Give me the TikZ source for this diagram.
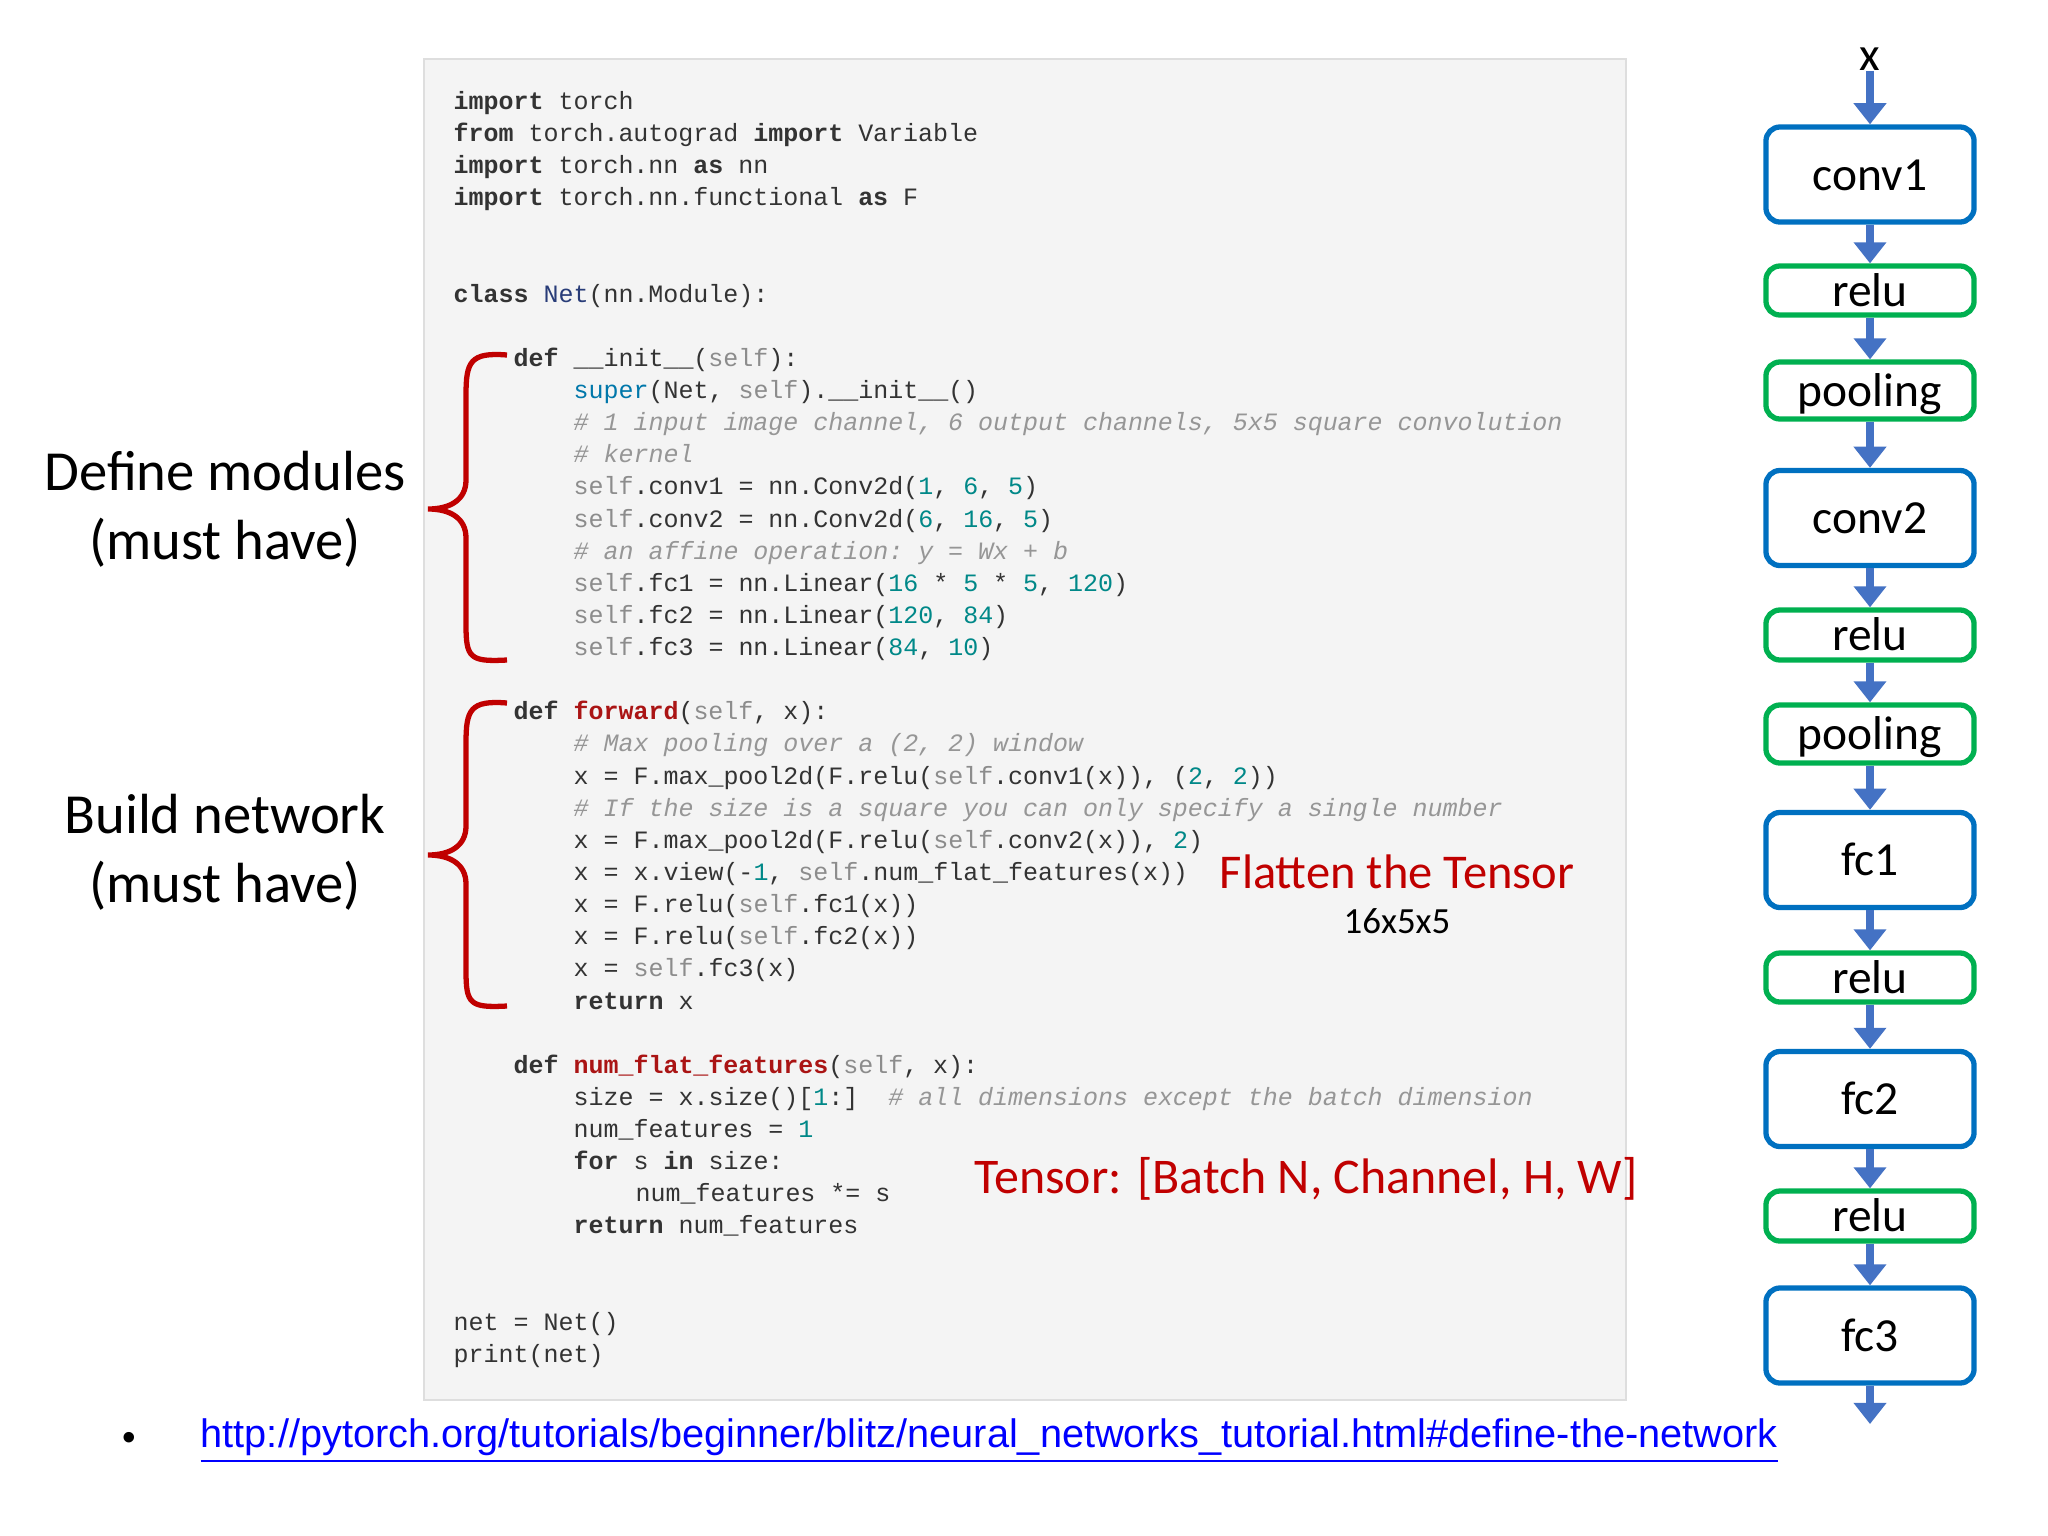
\documentclass[tikz,border=0pt]{standalone}
\usepackage{fontspec}
\usepackage{xcolor}
\usetikzlibrary{arrows.meta}
\setmonofont{Liberation Mono}
\newfontfamily\calib{Carlito}
\newfontfamily\arialf{Liberation Sans}
\definecolor{codebg}{RGB}{244,244,244}
\definecolor{codeln}{RGB}{222,222,222}
\definecolor{codetx}{RGB}{51,51,51}
\definecolor{cmtgray}{RGB}{150,150,150}
\definecolor{slfgray}{RGB}{140,140,140}
\definecolor{numteal}{RGB}{0,136,136}
\definecolor{supblue}{RGB}{0,119,170}
\definecolor{netblue}{RGB}{40,60,120}
\definecolor{fnred}{RGB}{170,20,20}
\definecolor{slred}{RGB}{192,0,0}
\definecolor{boxblue}{RGB}{0,112,192}
\definecolor{boxgreen}{RGB}{0,176,80}
\definecolor{arrblue}{RGB}{68,114,196}
\newcommand{\kwd}[1]{\textbf{#1}}
\newcommand{\num}[1]{\textcolor{numteal}{#1}}
\newcommand{\cmt}[1]{\textcolor{cmtgray}{\itshape #1}}
\newcommand{\slf}[1]{\textcolor{slfgray}{#1}}
\newcommand{\fnm}[1]{\textcolor{fnred}{\textbf{#1}}}

\begin{document}
\begin{tikzpicture}
      [ x=0.01cm, y=-0.01cm
      , code/.style={anchor=west, inner sep=0pt, text height=5pt, text depth=1.5pt,
          font=\ttfamily\fontsize{7.1}{8}\selectfont, text=codetx}
      , label/.style={font=\calib\fontsize{16.1}{19.5}\selectfont, align=center}
      , note/.style={font=\calib\fontsize{14.2}{16}\selectfont, text=slred}
      , brace/.style={slred, line width=1.5pt}
      , layer/.style={draw, line width=1.5pt, rounded corners=4pt, minimum width=2.08cm,
          inner sep=0pt, text height=9pt, text depth=0pt, font=\calib\fontsize{13.5}{16}\selectfont}
      , conv/.style={layer, boxblue, text=black, minimum height=0.95cm}
      , act/.style={layer, boxgreen, text=black}
      , flow/.style={arrblue, line width=2.2pt, -{Triangle[width=9pt,length=6pt]}}
      ]
    \useasboundingbox (0,0) rectangle (2048,1536);
    \fill[codebg, draw=codeln] (424,59) rectangle (1626,1400);

    % code lines
    \node[code] (l0) at (453,103.2) {\kwd{import} torch};
    \node[code] (l1) at (453,135.3) {\kwd{from} torch.autograd \kwd{import} Variable};
    \node[code] (l2) at (453,167.5) {\kwd{import} torch.nn \kwd{as} nn};
    \node[code] (l3) at (453,199.6) {\kwd{import} torch.nn.functional \kwd{as} F};
    \node[code] (l6) at (453,296.0) {\kwd{class} \textcolor{netblue}{Net}(nn.Module):};
    \node[code] (l8) at (513,360.2) {\kwd{def} \_\_init\_\_(\slf{self}):};
    \node[code] (l9) at (573,392.4) {\textcolor{supblue}{super}(Net, \slf{self}).\_\_init\_\_()};
    \node[code] (l10) at (573,424.5) {\cmt{\# 1 input image channel, 6 output channels, 5x5 square convolution}};
    \node[code] (l11) at (573,456.6) {\cmt{\# kernel}};
    \node[code] (l12) at (573,488.8) {\slf{self}.conv1 = nn.Conv2d(\num{1}, \num{6}, \num{5})};
    \node[code] (l13) at (573,520.9) {\slf{self}.conv2 = nn.Conv2d(\num{6}, \num{16}, \num{5})};
    \node[code] (l14) at (573,553.0) {\cmt{\# an affine operation: y = Wx + b}};
    \node[code] (l15) at (573,585.2) {\slf{self}.fc1 = nn.Linear(\num{16} * \num{5} * \num{5}, \num{120})};
    \node[code] (l16) at (573,617.3) {\slf{self}.fc2 = nn.Linear(\num{120}, \num{84})};
    \node[code] (l17) at (573,649.4) {\slf{self}.fc3 = nn.Linear(\num{84}, \num{10})};
    \node[code] (l19) at (513,713.7) {\kwd{def} \fnm{forward}(\slf{self}, x):};
    \node[code] (l20) at (573,745.8) {\cmt{\# Max pooling over a (2, 2) window}};
    \node[code] (l21) at (573,778.0) {x = F.max\_pool2d(F.relu(\slf{self}.conv1(x)), (\num{2}, \num{2}))};
    \node[code] (l22) at (573,810.1) {\cmt{\# If the size is a square you can only specify a single number}};
    \node[code] (l23) at (573,842.2) {x = F.max\_pool2d(F.relu(\slf{self}.conv2(x)), \num{2})};
    \node[code] (l24) at (573,874.4) {x = x.view(-\num{1}, \slf{self}.num\_flat\_features(x))};
    \node[code] (l25) at (573,906.5) {x = F.relu(\slf{self}.fc1(x))};
    \node[code] (l26) at (573,938.6) {x = F.relu(\slf{self}.fc2(x))};
    \node[code] (l27) at (573,970.8) {x = \slf{self}.fc3(x)};
    \node[code] (l28) at (573,1002.9) {\kwd{return} x};
    \node[code] (l30) at (513,1067.2) {\kwd{def} \fnm{num\_flat\_features}(\slf{self}, x):};
    \node[code] (l31) at (573,1099.3) {size = x.size()[\num{1}:]~~\cmt{\# all dimensions except the batch dimension}};
    \node[code] (l32) at (573,1131.4) {num\_features = \num{1}};
    \node[code] (l33) at (573,1163.6) {\kwd{for} s \kwd{in} size:};
    \node[code] (l34) at (635,1195.7) {num\_features *= s};
    \node[code] (l35) at (573,1227.8) {\kwd{return} num\_features};
    \node[code] (l38) at (453,1324.2) {net = Net()};
    \node[code] (l39) at (453,1356.3) {print(net)};

    % braces and labels
    \draw[brace] (507,355) .. controls (470,352) and (466,362) .. (466,395)
      -- (466,480) .. controls (466,500) and (450,509) .. (428,509)
      .. controls (450,509) and (466,518) .. (466,538)
      -- (466,625) .. controls (466,658) and (470,662) .. (507,660);
    \draw[brace] (507,703) .. controls (470,700) and (466,710) .. (466,743)
      -- (466,826) .. controls (466,846) and (450,855) .. (428,855)
      .. controls (450,855) and (466,864) .. (466,884)
      -- (466,971) .. controls (466,1004) and (470,1008) .. (507,1006);
    \node[label] (DM) at (225,509) {Define modules\\(must have)};
    \node[label] (BN) at (225,852) {Build network\\(must have)};

    \node[note, font=\calib\fontsize{13.8}{16}\selectfont] (FT) at (1397,872) {Flatten the Tensor};
    \node[font=\calib\fontsize{10.5}{12}\selectfont] (SZ) at (1397,921) {16x5x5};
    \node[note] (TS) at (1306,1179) {Tensor: [Batch N, Channel, H, W]};

    \node[font=\arialf\fontsize{11}{12}\selectfont] (B) at (129,1441) {\textbullet};
    \node[anchor=west, inner sep=0pt, font=\arialf\fontsize{11.3}{13}\selectfont, text=blue]
      (URL) at (200,1441) {\underline{http://pytorch.org/tutorials/beginner/blitz/neural\_networks\_tutorial.html\#define-the-network}};

    % network flow
    \node[font=\calib\fontsize{13.5}{16}\selectfont, inner sep=0pt] (x) at (1870,59) {x};
    \node[conv] (c1) at (1870,174.5) {conv1};
    \node[act, minimum height=0.49cm] (r1) at (1870,290.5) {relu};
    \node[act, minimum height=0.57cm] (p1) at (1870,390.5) {pooling};
    \node[conv] (c2) at (1870,518) {conv2};
    \node[act, minimum height=0.50cm] (r2) at (1870,635) {relu};
    \node[act, minimum height=0.58cm] (p2) at (1870,734) {pooling};
    \node[conv] (f1) at (1870,860) {fc1};
    \node[act, minimum height=0.49cm] (r3) at (1870,977.5) {relu};
    \node[conv] (f2) at (1870,1099) {fc2};
    \node[act, minimum height=0.50cm] (r4) at (1870,1216) {relu};
    \node[conv] (f3) at (1870,1335.5) {fc3};
    \coordinate (out) at (1870,1424);

    \foreach \a/\b in {x/c1, c1/r1, r1/p1, p1/c2, c2/r2, r2/p2, p2/f1, f1/r3, r3/f2, f2/r4, r4/f3}
      \draw[flow] (\a) -- (\b);
    \draw[flow] (f3) -- (out);
\end{tikzpicture}
\end{document}
